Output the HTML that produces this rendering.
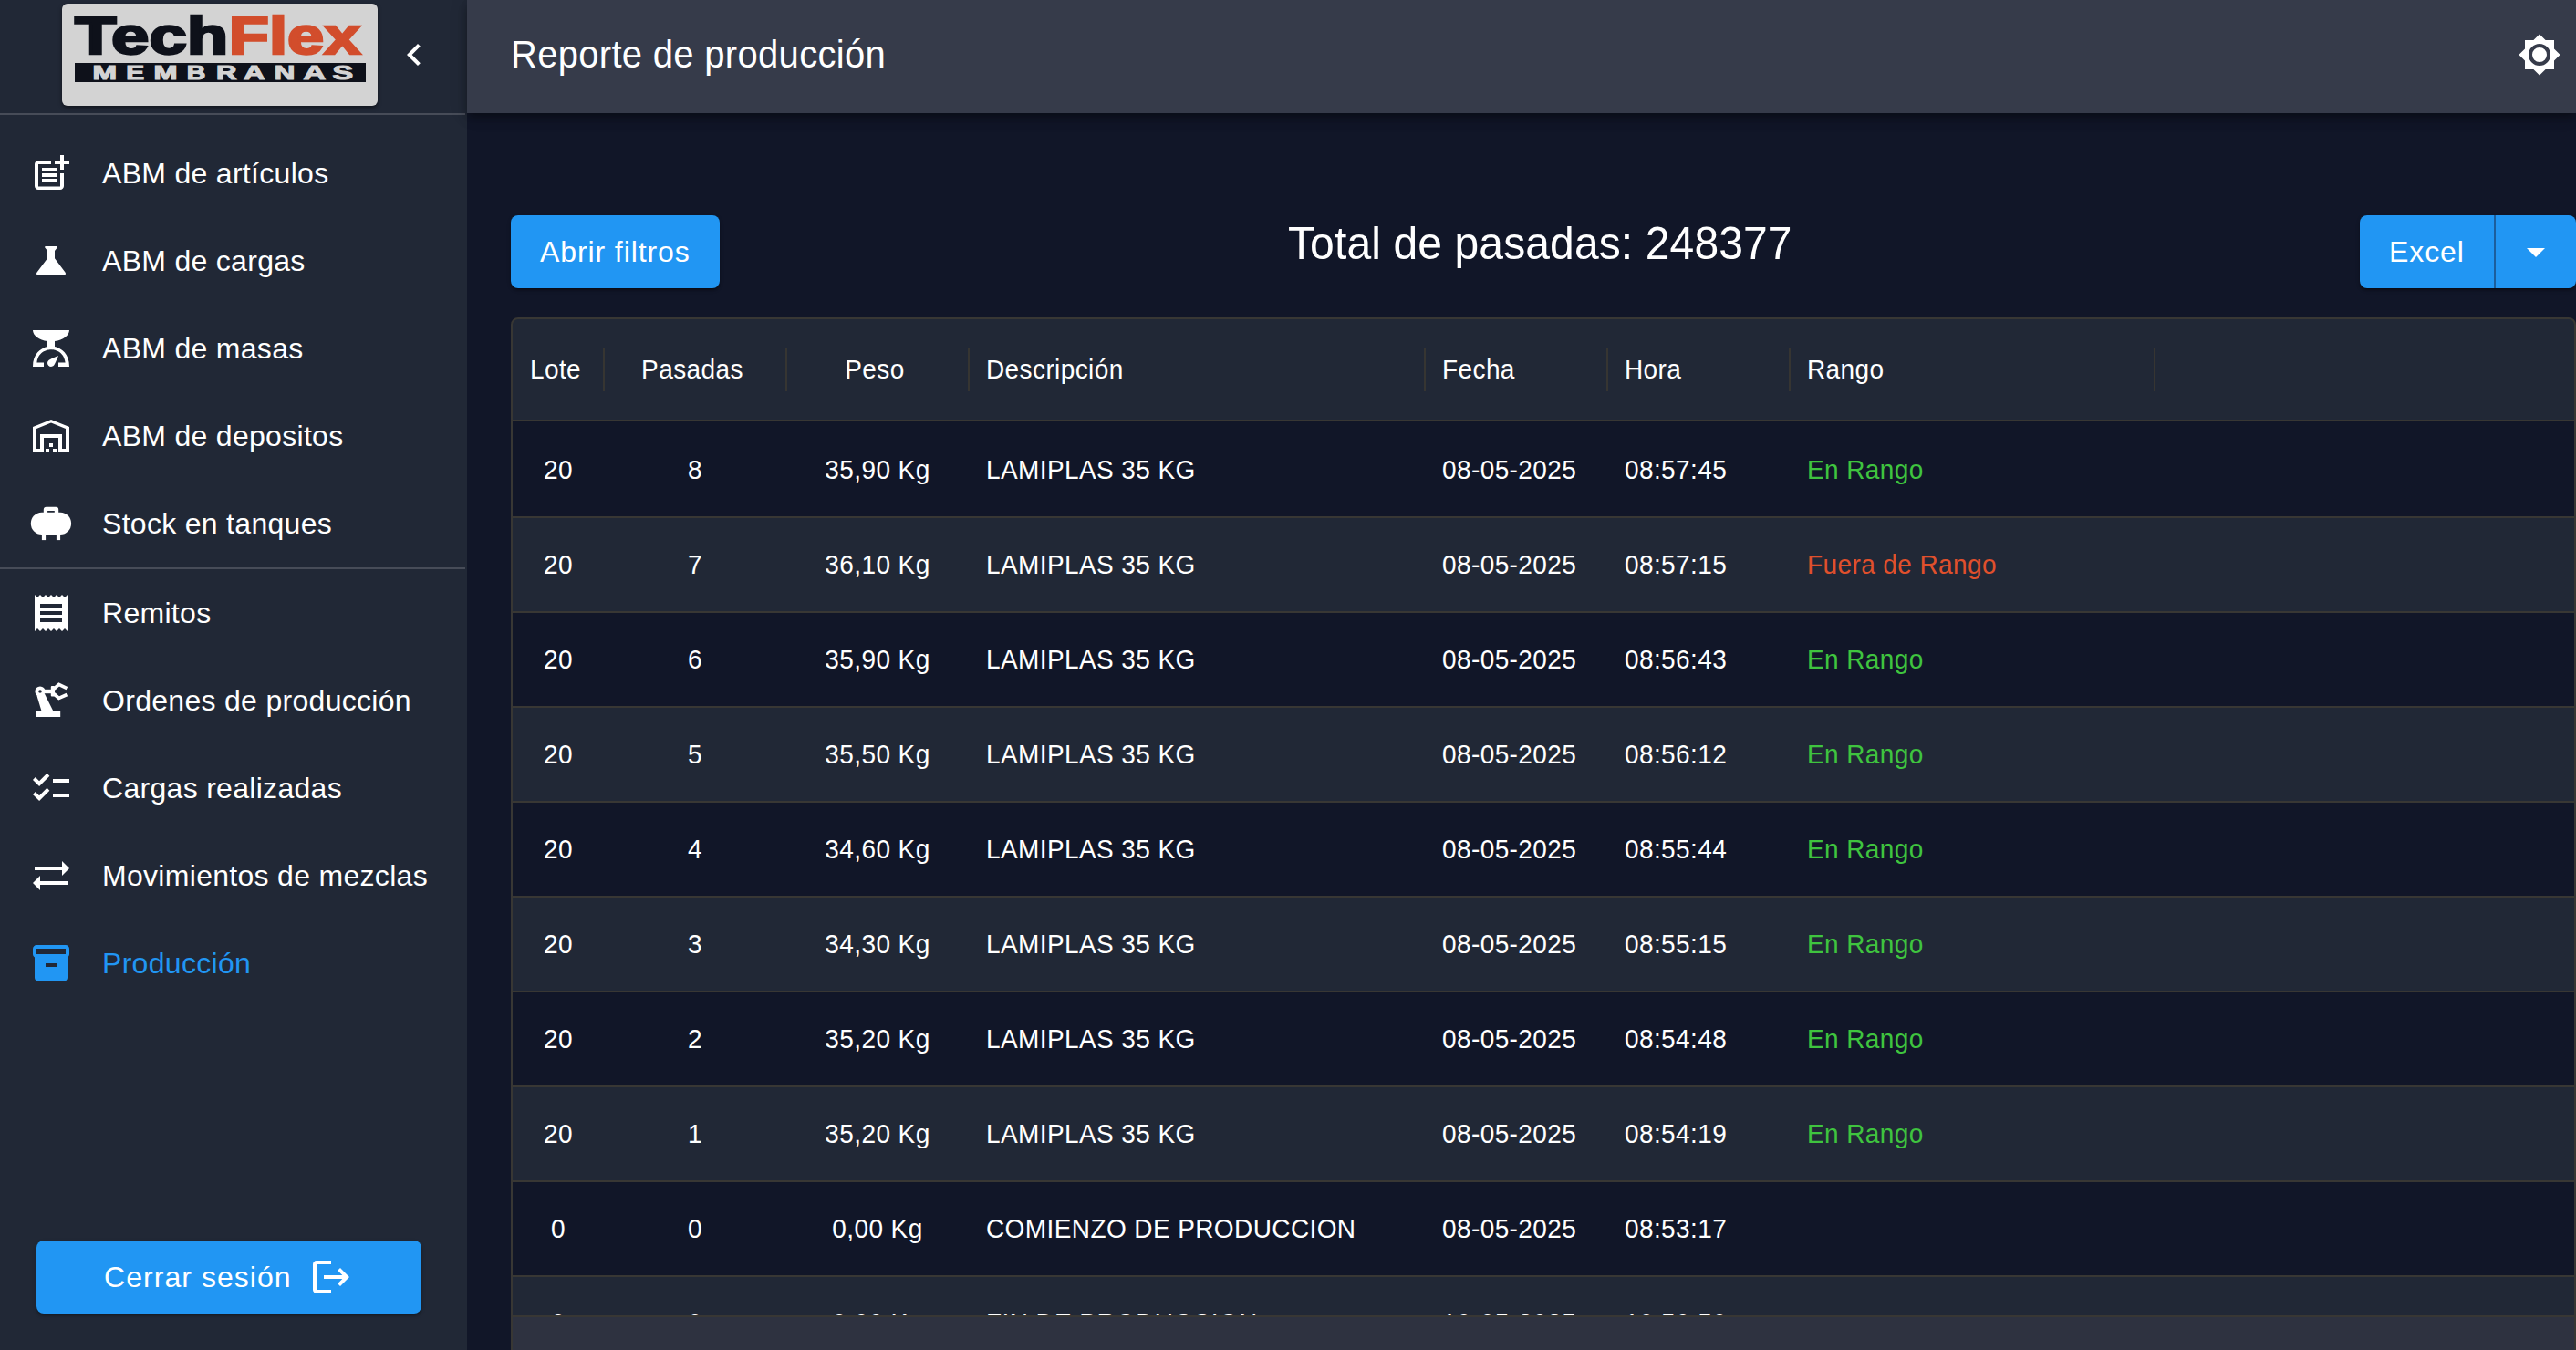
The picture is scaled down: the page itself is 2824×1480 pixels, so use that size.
<!DOCTYPE html>
<html><head><meta charset="utf-8">
<style>
*{margin:0;padding:0;box-sizing:border-box}
html,body{width:2824px;height:1480px;overflow:hidden;background:#111628;font-family:"Liberation Sans",sans-serif;color:#fff}
.a{position:absolute}
#side{left:0;top:0;width:512px;height:1480px;background:#212836}
#sidehdr{left:0;top:0;width:510px;height:126px;border-bottom:2px solid #474c58}
#logo{left:68px;top:4px;width:346px;height:112px;background:#d3d3d3;border-radius:6px;box-shadow:0 2px 4px rgba(0,0,0,.5)}
.ni{left:0;width:512px;height:48px}
.ni svg{position:absolute;left:32px;top:0;width:48px;height:48px;fill:#fff}
.ni span{position:absolute;left:112px;top:0;line-height:48px;font-size:32px;letter-spacing:.3px;white-space:nowrap}
.ni.act svg{fill:#2196f3}
.ni.act span{color:#2196f3}
#div1{left:0;top:622px;width:510px;height:2px;background:#474c58}
#hdr{left:512px;top:0;width:2312px;height:124px;background:#363b4a;box-shadow:0 4px 8px -2px rgba(0,0,0,.25),0 8px 10px rgba(0,0,0,.16),0 2px 20px rgba(0,0,0,.12)}
.btn{background:#2196f3;border-radius:8px;box-shadow:0 3px 3px -2px rgba(0,0,0,.4),0 2px 4px rgba(0,0,0,.28)}
.bt{position:absolute;font-size:32px;line-height:48px;letter-spacing:.9px;white-space:nowrap}
#card{left:560px;top:348px;width:2264px;height:1200px;border:2px solid #383734;border-radius:8px;background:#212836;overflow:hidden}
.row{position:absolute;left:0;width:2260px}
.c{position:absolute;font-size:28px;line-height:40px;letter-spacing:.4px;white-space:nowrap;transform:scaleY(1.06);transform-origin:0 29.7px}
.ctr{text-align:center}
.vd{position:absolute;top:31px;width:2px;height:48px;background:#363532}
.hl{position:absolute;left:0;width:2260px;height:2px;background:#383734}
</style></head>
<body>
<div id="side" class="a">
  <div id="sidehdr" class="a"></div>
  <div id="logo" class="a">
    <svg class="a" style="left:0;top:0" width="346" height="112" viewBox="68 4 346 112">
      <text x="82" y="58.5" font-family="Liberation Sans" font-weight="bold" font-size="57" fill="#0e111a" stroke="#0e111a" stroke-width="2.5" textLength="168.3" lengthAdjust="spacingAndGlyphs">Tech</text>
      <text x="250.8" y="58.5" font-family="Liberation Sans" font-weight="bold" font-size="57" fill="#d24d2c" stroke="#d24d2c" stroke-width="2.5" textLength="144.5" lengthAdjust="spacingAndGlyphs">Flex</text>
      <rect x="82" y="69" width="319" height="21" fill="#0e111a"/>
      <g font-family="Liberation Sans" font-weight="bold" font-size="21.6" fill="#d3d3d3" stroke="#d3d3d3" stroke-width="1.1"><text x="101.4" y="87.3" textLength="26.6" lengthAdjust="spacingAndGlyphs">M</text><text x="138.3" y="87.3" textLength="19.9" lengthAdjust="spacingAndGlyphs">E</text><text x="168.5" y="87.3" textLength="26.0" lengthAdjust="spacingAndGlyphs">M</text><text x="204.8" y="87.3" textLength="20.6" lengthAdjust="spacingAndGlyphs">B</text><text x="237.1" y="87.3" textLength="22.5" lengthAdjust="spacingAndGlyphs">R</text><text x="267.1" y="87.3" textLength="23.4" lengthAdjust="spacingAndGlyphs">A</text><text x="300.8" y="87.3" textLength="22.6" lengthAdjust="spacingAndGlyphs">N</text><text x="332.4" y="87.3" textLength="24.6" lengthAdjust="spacingAndGlyphs">A</text><text x="364.6" y="87.3" textLength="22.6" lengthAdjust="spacingAndGlyphs">S</text></g>
    </svg>
  </div>
  <svg class="a" style="left:430px;top:36px" width="48" height="48" viewBox="0 0 24 24" fill="#fff"><path d="M15.41,16.58L10.83,12L15.41,7.41L14,6L8,12L14,18L15.41,16.58Z"/></svg>

  <div class="a ni" style="top:166px"><svg viewBox="0 0 24 24"><path d="M17 19.22H5V7h7V5H5c-1.1 0-2 .9-2 2v12c0 1.1.9 2 2 2h12c1.1 0 2-.9 2-2v-7h-2v7.22zM19 2h-2v3h-3c.01.01 0 2 0 2h3v2.99c.01.01 2 0 2 0V7h3V5h-3V2zM7 9h8v2H7zm0 3v2h8v-2h-3zm0 3h8v2H7z"/></svg><span>ABM de artículos</span></div>
  <div class="a ni" style="top:262px"><svg viewBox="0 0 24 24"><path d="M19.8 18.4L14 10.67V6.5l1.35-1.69c.26-.33.03-.81-.39-.81H9.04c-.42 0-.65.48-.39.81L10 6.5v4.17L4.2 18.4c-.49.66-.02 1.6.8 1.6h14c.82 0 1.29-.94.8-1.6z"/></svg><span>ABM de cargas</span></div>
  <div class="a ni" style="top:358px"><svg viewBox="0 0 24 24" style="top:2px"><path d="M14 10V7c4.56-.5 8-3.14 8-6H2c0 2.86 3.44 5.5 8 6v3c-3.68.8-8 3.97-8 11h6v-2.3H4.2c.93-6.83 6.65-7.12 7.8-7.12s6.87.29 7.8 7.12H16V21h6c0-7.03-4.32-10.2-8-11zM12 21c-1.1 0-2-.9-2-2 0-.55.22-1.05.59-1.41C11.39 16.79 16 15 16 15s-1.79 4.61-2.59 5.41c-.36.37-.86.59-1.41.59z"/></svg><span>ABM de masas</span></div>
  <div class="a ni" style="top:454px"><svg viewBox="0 0 24 24"><path fill-rule="evenodd" d="M20 7.97V19h-2v-8H6v8H4V7.97L12 4.77l8 3.2M22 21V7L12 3 2 7v14h6v-8h8v8h6zm-11-2H9v2h2v-2zm2-3h-2v2h2v-2zm2 3h-2v2h2v-2z"/></svg><span>ABM de depositos</span></div>
  <div class="a ni" style="top:550px"><svg viewBox="0 0 24 24"><path d="M7.9 5.95V4.4A1.5 1.5 0 0 1 9.4 2.9H14.6A1.5 1.5 0 0 1 16.1 4.4V5.95H13.9V5.05H10.05V5.95Z"/><rect x="0.9" y="5.85" width="22.15" height="12.2" rx="6" ry="6"/><rect x="6.95" y="17" width="2.1" height="4.05"/><rect x="14.95" y="17" width="2.1" height="4.05"/></svg><span>Stock en tanques</span></div>
  <div id="div1" class="a"></div>
  <div class="a ni" style="top:648px"><svg viewBox="0 0 24 24"><path d="M18 17H6v-2h12v2zm0-4H6v-2h12v2zm0-4H6V7h12v2zM3 22l1.5-1.5L6 22l1.5-1.5L9 22l1.5-1.5L12 22l1.5-1.5L15 22l1.5-1.5L18 22l1.5-1.5L21 22V2l-1.5 1.5L18 2l-1.5 1.5L15 2l-1.5 1.5L12 2l-1.5 1.5L9 2 7.5 3.5 6 2 4.5 3.5 3 2v20z"/></svg><span>Remitos</span></div>
  <div class="a ni" style="top:744px"><svg viewBox="0 0 24 24"><rect x="3.9" y="17.9" width="13.2" height="3.1"/><path d="M4.2 9.2L8.5 8.4L13.4 18.2L6.9 18.2Z"/><path fill-rule="evenodd" d="M6 4.2A2.8 2.8 0 1 1 6 9.8A2.8 2.8 0 1 1 6 4.2ZM6 6.1A0.9 0.9 0 1 0 6 7.9A0.9 0.9 0 1 0 6 6.1Z"/><rect x="8.3" y="5.9" width="4" height="2.2"/><rect x="11.9" y="4" width="2.1" height="5.8" rx="0.5"/><path d="M13.6 5.6L16.3 3.2L20.7 5.3" fill="none" stroke="#fff" stroke-width="1.9"/><path d="M13.6 8.4L16.3 10.7L20.7 8.8" fill="none" stroke="#fff" stroke-width="1.9"/></svg><span>Ordenes de producción</span></div>
  <div class="a ni" style="top:840px"><svg viewBox="0 0 24 24"><path d="M22 7h-9v2h9V7zm0 8h-9v2h9v-2zM5.54 11L2 7.46l1.41-1.41 2.12 2.12 4.24-4.24 1.41 1.41L5.54 11zm0 8L2 15.46l1.41-1.41 2.12 2.120 4.24-4.24 1.41 1.41L5.54 19z"/></svg><span>Cargas realizadas</span></div>
  <div class="a ni" style="top:936px"><svg viewBox="0 0 24 24"><path d="M22 8L18 4V7H3V9H18V12L22 8M6 12L2 16L6 20V17H21V15H6V12Z"/></svg><span>Movimientos de mezclas</span></div>
  <div class="a ni act" style="top:1032px"><svg viewBox="0 0 24 24"><path d="M20 2H4c-1 0-2 .9-2 2v3.01c0 .72.43 1.34 1 1.69V20c0 1.1 1.1 2 2 2h14c.9 0 2-.9 2-2V8.7c.57-.35 1-.97 1-1.690V4c0-1.1-1-2-2-2zm-5 12H9v-2h6v2zm5-7H4V4l16-.02V7z"/></svg><span>Producción</span></div>

  <div class="a btn" style="left:40px;top:1360px;width:422px;height:80px">
    <span class="bt" style="left:74px;top:16px;letter-spacing:1.05px">Cerrar sesión</span>
    <svg class="a" style="left:299px;top:16px" width="48" height="48" viewBox="0 0 24 24" fill="#fff"><path d="M17 7L15.59 8.41L18.17 11H8V13H18.17L15.59 15.58L17 17L22 12M4 5H12V3H4C2.9 3 2 3.9 2 5V19C2 20.1 2.9 21 4 21H12V19H4V5Z"/></svg>
  </div>
</div>

<div id="hdr" class="a">
  <span class="a" style="left:48px;top:32px;font-size:40px;line-height:56px;letter-spacing:.3px;white-space:nowrap;transform:scaleY(1.04);transform-origin:0 41.85px">Reporte de producción</span>
  <svg class="a" style="left:2248px;top:36px" width="48" height="48" viewBox="0 0 24 24" fill="#fff"><path fill-rule="evenodd" d="M20,8.69V4H15.31L12,0.69L8.69,4H4V8.69L0.69,12L4,15.31V20H8.69L12,23.31L15.31,20H20V15.31L23.31,12L20,8.69ZM12,6A6,6 0 1 1 12,18A6,6 0 1 1 12,6ZM12,8A4,4 0 1 0 12,16A4,4 0 1 0 12,8Z"/></svg>
</div>

<div class="a btn" style="left:560px;top:236px;width:229px;height:80px">
  <span class="bt" style="left:32px;top:16px">Abrir filtros</span>
</div>
<span class="a" style="left:1412px;top:240px;font-size:48px;line-height:56px;white-space:nowrap;letter-spacing:.12px;transform:scaleY(1.06);transform-origin:0 44.6px">Total de pasadas: 248377</span>
<div class="a btn" style="left:2587px;top:236px;width:237px;height:80px">
  <span class="bt" style="left:32px;top:16px">Excel</span>
  <div class="a" style="left:147px;top:0;width:2px;height:80px;background:#1c5e9c"></div>
  <svg class="a" style="left:169px;top:16px" width="48" height="48" viewBox="0 0 24 24" fill="#fff"><path d="M7,10L12,15L17,10H7Z"/></svg>
</div>

<div id="card" class="a">
<div class="c ctr" style="left:-3px;width:100px;top:36px">Lote</div>
<div class="c ctr" style="left:97px;width:200px;top:36px">Pasadas</div>
<div class="c ctr" style="left:297px;width:200px;top:36px">Peso</div>
<div class="c" style="left:519px;top:36px">Descripción</div>
<div class="c" style="left:1019px;top:36px">Fecha</div>
<div class="c" style="left:1219px;top:36px">Hora</div>
<div class="c" style="left:1419px;top:36px">Rango</div>
<div class="vd" style="left:99px"></div>
<div class="vd" style="left:299px"></div>
<div class="vd" style="left:499px"></div>
<div class="vd" style="left:999px"></div>
<div class="vd" style="left:1199px"></div>
<div class="vd" style="left:1399px"></div>
<div class="vd" style="left:1799px"></div>
<div class="hl" style="top:110px"></div>
<div class="row" style="top:112px;height:104px;background:#111628"></div>
<div class="hl" style="top:216px"></div>
<div class="c ctr" style="left:0;width:100px;top:146px">20</div>
<div class="c ctr" style="left:100px;width:200px;top:146px">8</div>
<div class="c ctr" style="left:300px;width:200px;top:146px">35,90 Kg</div>
<div class="c" style="left:519px;top:146px">LAMIPLAS 35 KG</div>
<div class="c" style="left:1019px;top:146px">08-05-2025</div>
<div class="c" style="left:1219px;top:146px">08:57:45</div>
<div class="c" style="left:1419px;top:146px;color:#3fc43f">En Rango</div>
<div class="hl" style="top:320px"></div>
<div class="c ctr" style="left:0;width:100px;top:250px">20</div>
<div class="c ctr" style="left:100px;width:200px;top:250px">7</div>
<div class="c ctr" style="left:300px;width:200px;top:250px">36,10 Kg</div>
<div class="c" style="left:519px;top:250px">LAMIPLAS 35 KG</div>
<div class="c" style="left:1019px;top:250px">08-05-2025</div>
<div class="c" style="left:1219px;top:250px">08:57:15</div>
<div class="c" style="left:1419px;top:250px;color:#e0502c">Fuera de Rango</div>
<div class="row" style="top:322px;height:102px;background:#111628"></div>
<div class="hl" style="top:424px"></div>
<div class="c ctr" style="left:0;width:100px;top:354px">20</div>
<div class="c ctr" style="left:100px;width:200px;top:354px">6</div>
<div class="c ctr" style="left:300px;width:200px;top:354px">35,90 Kg</div>
<div class="c" style="left:519px;top:354px">LAMIPLAS 35 KG</div>
<div class="c" style="left:1019px;top:354px">08-05-2025</div>
<div class="c" style="left:1219px;top:354px">08:56:43</div>
<div class="c" style="left:1419px;top:354px;color:#3fc43f">En Rango</div>
<div class="hl" style="top:528px"></div>
<div class="c ctr" style="left:0;width:100px;top:458px">20</div>
<div class="c ctr" style="left:100px;width:200px;top:458px">5</div>
<div class="c ctr" style="left:300px;width:200px;top:458px">35,50 Kg</div>
<div class="c" style="left:519px;top:458px">LAMIPLAS 35 KG</div>
<div class="c" style="left:1019px;top:458px">08-05-2025</div>
<div class="c" style="left:1219px;top:458px">08:56:12</div>
<div class="c" style="left:1419px;top:458px;color:#3fc43f">En Rango</div>
<div class="row" style="top:530px;height:102px;background:#111628"></div>
<div class="hl" style="top:632px"></div>
<div class="c ctr" style="left:0;width:100px;top:562px">20</div>
<div class="c ctr" style="left:100px;width:200px;top:562px">4</div>
<div class="c ctr" style="left:300px;width:200px;top:562px">34,60 Kg</div>
<div class="c" style="left:519px;top:562px">LAMIPLAS 35 KG</div>
<div class="c" style="left:1019px;top:562px">08-05-2025</div>
<div class="c" style="left:1219px;top:562px">08:55:44</div>
<div class="c" style="left:1419px;top:562px;color:#3fc43f">En Rango</div>
<div class="hl" style="top:736px"></div>
<div class="c ctr" style="left:0;width:100px;top:666px">20</div>
<div class="c ctr" style="left:100px;width:200px;top:666px">3</div>
<div class="c ctr" style="left:300px;width:200px;top:666px">34,30 Kg</div>
<div class="c" style="left:519px;top:666px">LAMIPLAS 35 KG</div>
<div class="c" style="left:1019px;top:666px">08-05-2025</div>
<div class="c" style="left:1219px;top:666px">08:55:15</div>
<div class="c" style="left:1419px;top:666px;color:#3fc43f">En Rango</div>
<div class="row" style="top:738px;height:102px;background:#111628"></div>
<div class="hl" style="top:840px"></div>
<div class="c ctr" style="left:0;width:100px;top:770px">20</div>
<div class="c ctr" style="left:100px;width:200px;top:770px">2</div>
<div class="c ctr" style="left:300px;width:200px;top:770px">35,20 Kg</div>
<div class="c" style="left:519px;top:770px">LAMIPLAS 35 KG</div>
<div class="c" style="left:1019px;top:770px">08-05-2025</div>
<div class="c" style="left:1219px;top:770px">08:54:48</div>
<div class="c" style="left:1419px;top:770px;color:#3fc43f">En Rango</div>
<div class="hl" style="top:944px"></div>
<div class="c ctr" style="left:0;width:100px;top:874px">20</div>
<div class="c ctr" style="left:100px;width:200px;top:874px">1</div>
<div class="c ctr" style="left:300px;width:200px;top:874px">35,20 Kg</div>
<div class="c" style="left:519px;top:874px">LAMIPLAS 35 KG</div>
<div class="c" style="left:1019px;top:874px">08-05-2025</div>
<div class="c" style="left:1219px;top:874px">08:54:19</div>
<div class="c" style="left:1419px;top:874px;color:#3fc43f">En Rango</div>
<div class="row" style="top:946px;height:102px;background:#111628"></div>
<div class="hl" style="top:1048px"></div>
<div class="c ctr" style="left:0;width:100px;top:978px">0</div>
<div class="c ctr" style="left:100px;width:200px;top:978px">0</div>
<div class="c ctr" style="left:300px;width:200px;top:978px">0,00 Kg</div>
<div class="c" style="left:519px;top:978px">COMIENZO DE PRODUCCION</div>
<div class="c" style="left:1019px;top:978px">08-05-2025</div>
<div class="c" style="left:1219px;top:978px">08:53:17</div>
<div class="hl" style="top:1152px"></div>
<div class="c ctr" style="left:0;width:100px;top:1082px">0</div>
<div class="c ctr" style="left:100px;width:200px;top:1082px">0</div>
<div class="c ctr" style="left:300px;width:200px;top:1082px">0,00 Kg</div>
<div class="c" style="left:519px;top:1082px">FIN DE PRODUCCION</div>
<div class="c" style="left:1019px;top:1082px">10-05-2025</div>
<div class="c" style="left:1219px;top:1082px">10:50:50</div>
<div class="row" style="top:1092px;height:200px;background:#2e3240;border-top:2px solid #383734"></div>
</div>
</body></html>
